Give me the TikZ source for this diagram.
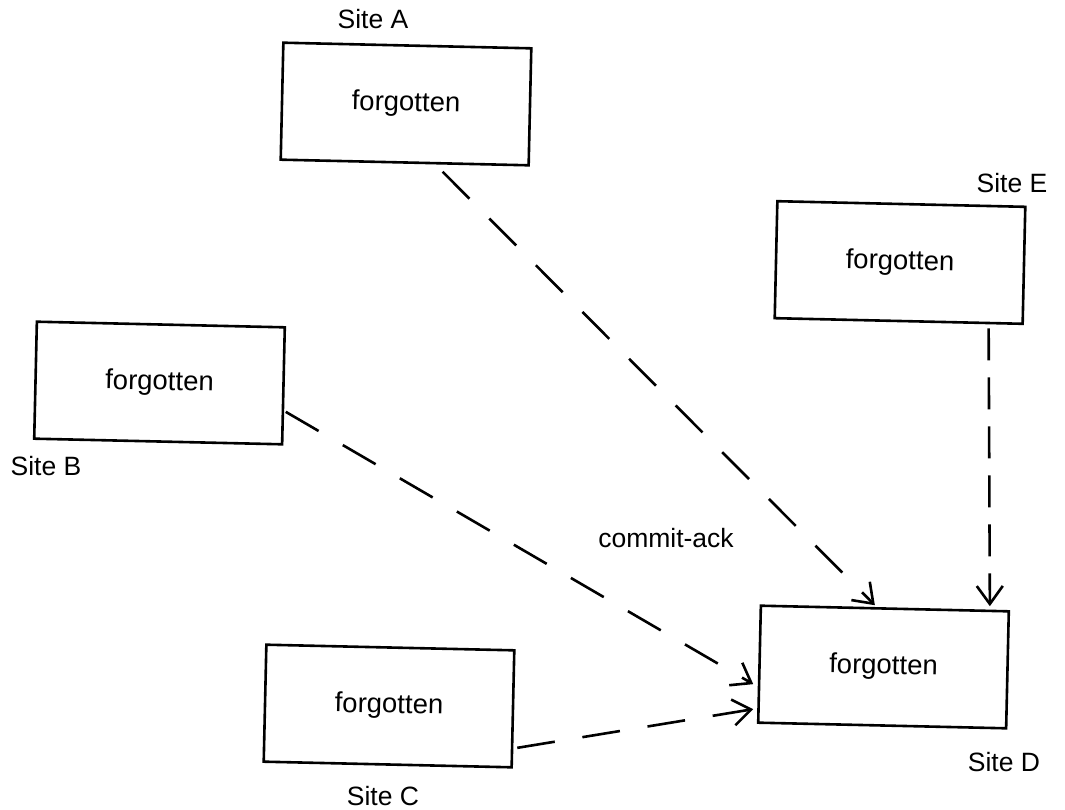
\documentclass[tikz,border=0pt]{standalone}
\usepackage{fontspec}
\setmainfont{Liberation Sans}
\usetikzlibrary{arrows.meta,calc}
\begin{document}
\begin{tikzpicture}[x=1pt,y=-1pt,
  site/.style={draw,line width=2.6pt,minimum width=248pt,minimum height=117pt,
    inner sep=0pt,rotate=-1.3,font=\fontsize{27.5}{32}\selectfont},
  tag/.style={inner sep=0pt,font=\fontsize{26.5}{31}\selectfont},
  msg/.style={line width=2.6pt,dash pattern=on 38pt off 28pt,
    -{Straight Barb[length=18pt,width=26pt,line width=2.6pt]}},
  msgv/.style={msg,dash pattern=on 32pt off 17pt}]
\useasboundingbox (0,0) rectangle (1065,810);
% the five sites
\node[site] (A) at (406,104) {forgotten};
\node[site] (B) at (159.5,383) {forgotten};
\node[site] (C) at (389,706) {forgotten};
\node[site] (D) at (883.5,667) {forgotten};
\node[site] (E) at (900,262.5) {forgotten};
% site names
\node[tag] (la) at (373,19) {Site A};
\node[tag] (lb) at (46,466) {Site B};
\node[tag] (lc) at (383,796) {Site C};
\node[tag] (ld) at (1004,762) {Site D};
\node[tag] (le) at (1012,183) {Site E};
\node[tag] (ack) at (666,538) {commit-ack};
% acknowledgements sent to site D
\draw[msg] ($(A.south)+(38,8)$) -- ($(D.north)+(-10,-2)$);
\draw[msgv] ($(E.south)+(90,6)$) -- ($(D.north)+(105,-1)$);
\draw[msg] ($(B.east)+(1,26)$) -- ($(D.west)+(-5,20)$);
\draw[msg] ($(C.east)+(3,39)$) -- ($(D.west)+(-5,45)$);
\end{tikzpicture}
\end{document}
